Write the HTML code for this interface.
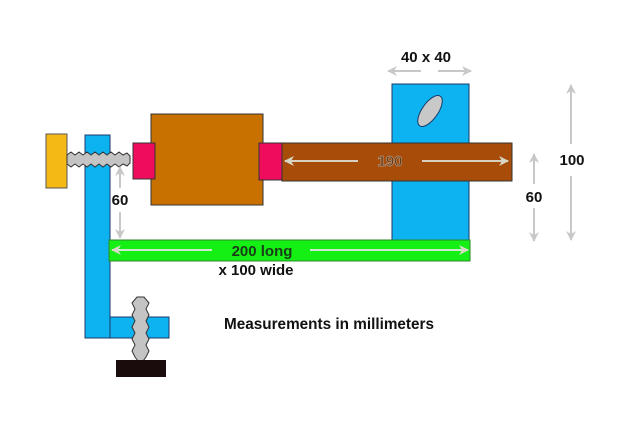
<!DOCTYPE html>
<html><head><meta charset="utf-8"><style>body{margin:0;background:#fff}svg{display:block}text{font-family:"Liberation Sans",Arial,sans-serif;font-weight:bold}</style></head><body>
<svg width="620" height="438" viewBox="0 0 620 438" xmlns="http://www.w3.org/2000/svg">
<defs>
<marker id="ah" viewBox="0 0 10 10" refX="9" refY="5" markerWidth="5" markerHeight="5" orient="auto-start-reverse"><path d="M0,0 L10,5 L0,10 L3,5z" fill="#c8c8c8"/></marker>
<marker id="ahw" viewBox="0 0 10 10" refX="9" refY="5" markerWidth="5" markerHeight="5" orient="auto-start-reverse"><path d="M0,0 L10,5 L0,10 L3,5z" fill="#d8d8c8"/></marker>
</defs>
<rect x="85" y="135" width="25" height="203" fill="#0db2f0" stroke="#1a3a6a" stroke-width="1"/>
<rect x="110" y="317" width="59" height="21" fill="#0db2f0" stroke="#1a3a6a" stroke-width="1"/>
<rect x="46" y="134" width="21" height="54" fill="#f5b915" stroke="#555" stroke-width="1"/>
<path d="M67,155 L71,152 L75,155 L79,152 L83,155 L87,152 L91,155 L95,152 L99,155 L103,152 L107,155 L111,152 L115,155 L119,152 L123,155 L127,153 L130,156 L130,163 L127,166 L123,164 L119,167 L115,164 L111,167 L107,164 L103,167 L99,164 L95,167 L91,164 L87,167 L83,164 L79,167 L75,164 L71,167 L67,164 Z" fill="#c4c4c4" stroke="#333" stroke-width="1"/>
<rect x="151" y="114" width="112" height="91" fill="#c87000" stroke="#333" stroke-width="1"/>
<rect x="133" y="143" width="22" height="36" fill="#f00c5c" stroke="#333" stroke-width="1"/>
<rect x="392" y="84" width="77" height="156" fill="#0db2f0" stroke="#1a3a6a" stroke-width="1"/>
<ellipse cx="430" cy="111" rx="8" ry="18" transform="rotate(35 430 111)" fill="#c8c8c8" stroke="#1a3a6a" stroke-width="1"/>
<rect x="282" y="143" width="230" height="38" fill="#a84c0a" stroke="#333" stroke-width="1"/>
<rect x="259" y="143" width="23" height="37" fill="#f00c5c" stroke="#333" stroke-width="1"/>
<line x1="285" y1="161" x2="358" y2="161" stroke="#d8d0c0" stroke-width="2" marker-start="url(#ahw)"/>
<line x1="422" y1="161" x2="508" y2="161" stroke="#d8d0c0" stroke-width="2" marker-end="url(#ahw)"/>
<text x="390" y="166" font-size="15" fill="#6a3a10" text-anchor="middle" stroke="#ccc" stroke-width="0.4">190</text>
<rect x="109" y="240" width="361" height="21" fill="#14f014" stroke="#2a8a2a" stroke-width="1"/>
<line x1="112" y1="250" x2="212" y2="250" stroke="#cfe8cf" stroke-width="2" marker-start="url(#ahw)"/>
<line x1="310" y1="250" x2="468" y2="250" stroke="#cfe8cf" stroke-width="2" marker-end="url(#ahw)"/>
<text x="262" y="256" font-size="15" fill="#1a3a1a" text-anchor="middle">200 long</text>
<text x="256" y="275" font-size="15" fill="#111" text-anchor="middle">x 100 wide</text>
<line x1="120" y1="167" x2="120" y2="188" stroke="#c8c8c8" stroke-width="2" marker-start="url(#ah)"/>
<line x1="120" y1="212" x2="120" y2="238" stroke="#c8c8c8" stroke-width="2" marker-end="url(#ah)"/>
<text x="120" y="205" font-size="15" fill="#111" text-anchor="middle">60</text>
<path d="M137,297 L144,297 L149,303 L146,309 L149,315 L146,321 L149,327 L146,333 L149,339 L146,345 L149,351 L146,357 L143,361 L138,361 L135,357 L132,351 L135,345 L132,339 L135,333 L132,327 L135,321 L132,315 L135,309 L132,303 Z" fill="#c4c4c4" stroke="#333" stroke-width="1"/>
<rect x="116" y="360" width="50" height="17" fill="#1a0c0c"/>
<text x="426" y="62" font-size="15" fill="#111" text-anchor="middle">40 x 40</text>
<line x1="388" y1="71" x2="421" y2="71" stroke="#c8c8c8" stroke-width="2" marker-start="url(#ah)"/>
<line x1="438" y1="71" x2="471" y2="71" stroke="#c8c8c8" stroke-width="2" marker-end="url(#ah)"/>
<line x1="534" y1="154" x2="534" y2="184" stroke="#c8c8c8" stroke-width="2" marker-start="url(#ah)"/>
<line x1="534" y1="208" x2="534" y2="241" stroke="#c8c8c8" stroke-width="2" marker-end="url(#ah)"/>
<text x="534" y="202" font-size="15" fill="#111" text-anchor="middle">60</text>
<line x1="571" y1="85" x2="571" y2="144" stroke="#c8c8c8" stroke-width="2" marker-start="url(#ah)"/>
<line x1="571" y1="176" x2="571" y2="240" stroke="#c8c8c8" stroke-width="2" marker-end="url(#ah)"/>
<text x="572" y="165" font-size="15" fill="#111" text-anchor="middle">100</text>
<text x="224" y="329" font-size="15.3" fill="#111">Measurements in millimeters</text>
</svg>
</body></html>
